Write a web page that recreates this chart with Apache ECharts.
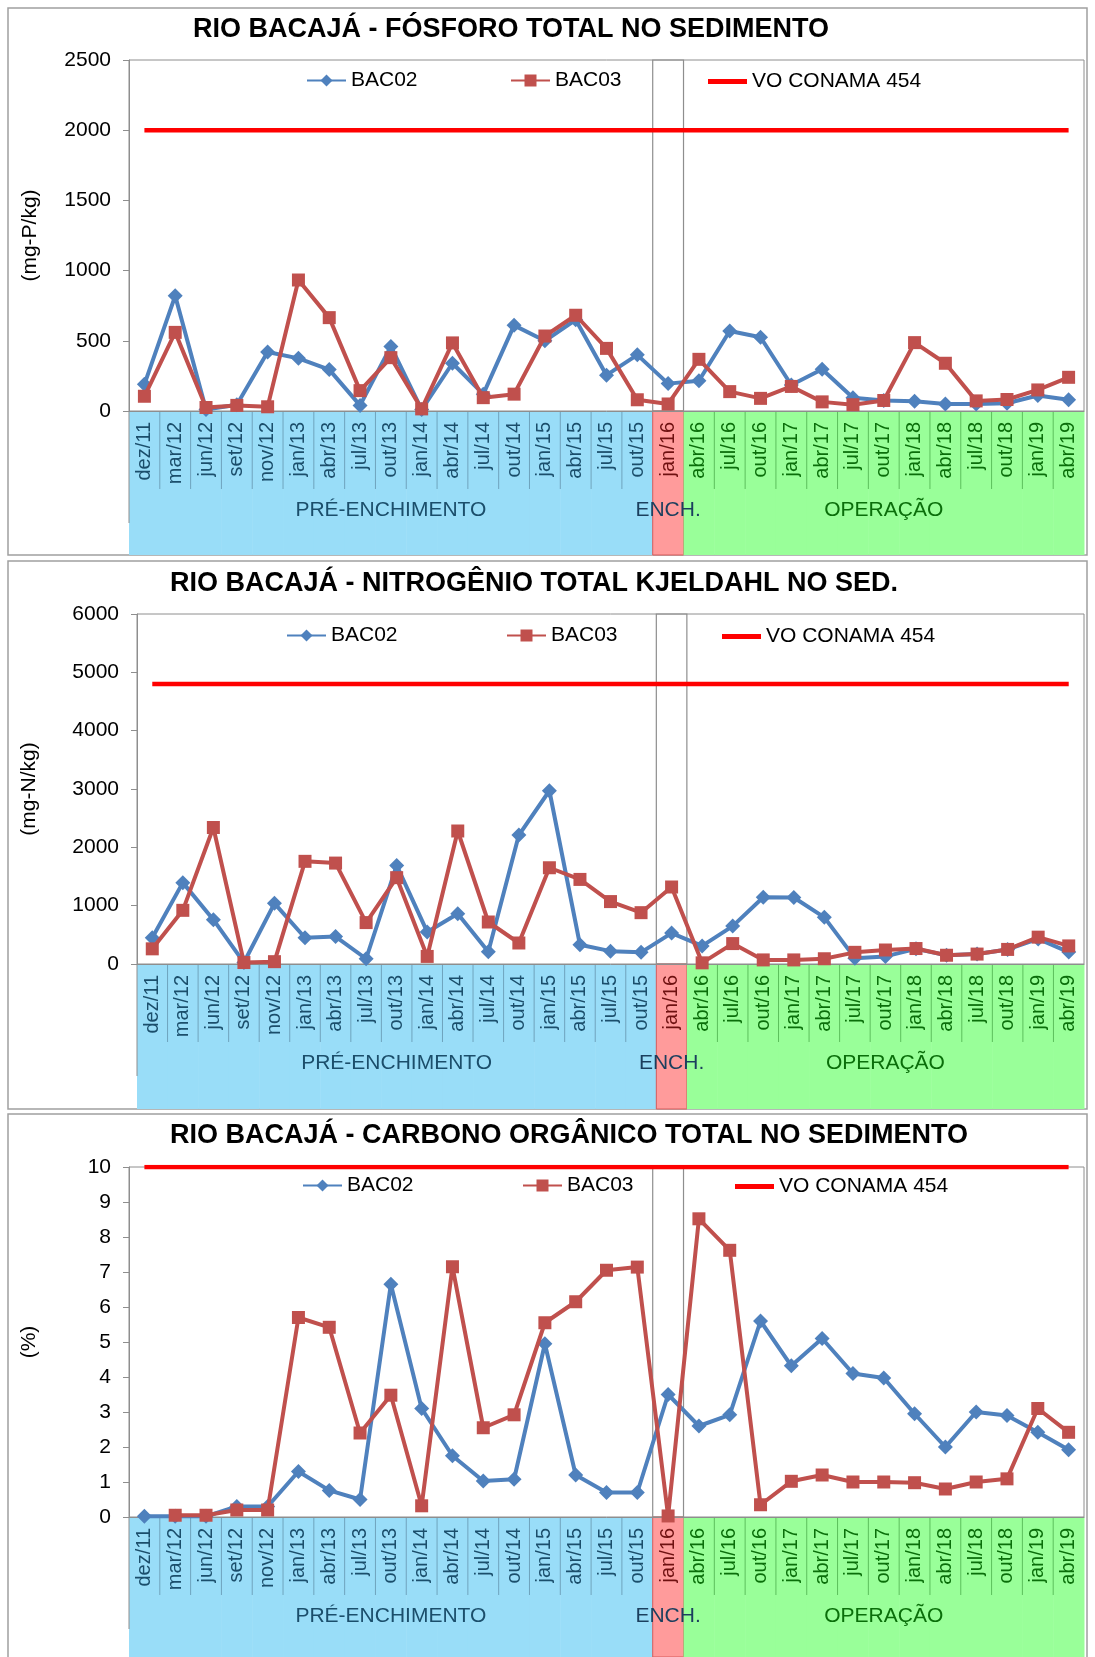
<!DOCTYPE html>
<html>
<head>
<meta charset="utf-8">
<script src="https://cdn.jsdelivr.net/npm/echarts@6/dist/echarts.min.js"></script>
<style>
  html, body { margin: 0; padding: 0; background: #fff; }
  #wrap { position: relative; width: 1095px; height: 1657px; overflow: hidden; }
  .chart { position: absolute; left: 0; width: 1095px; }
</style>
</head>
<body>
<div id="wrap">
  <div id="chartP" class="chart" style="top:0;height:560px"></div>
  <div id="chartN" class="chart" style="top:560px;height:553px"></div>
  <div id="chartC" class="chart" style="top:1113px;height:544px"></div>
</div>
<script>
// campaigns
const categories = ['dez/11','mar/12','jun/12','set/12','nov/12','jan/13','abr/13','jul/13','out/13',
  'jan/14','abr/14','jul/14','out/14','jan/15','abr/15','jul/15','out/15','jan/16',
  'abr/16','jul/16','out/16','jan/17','abr/17','jul/17','out/17','jan/18','abr/18','jul/18','out/18','jan/19','abr/19'];

// phases (first / last category index)
const phaseNames = ['PRÉ-ENCHIMENTO', 'ENCH.', 'OPERAÇÃO'];
const phaseStart = [0, 17, 18];
const phaseEnd = [16, 17, 30];

// Fósforo total (mg-P/kg)
const fosforoBAC02 = [190, 820, 10, 45, 420, 375, 295, 40, 460, 10, 340, 120, 610, 500, 650, 255, 400,
  195, 215, 570, 525, 185, 297, 95, 75, 70, 50, 50, 55, 110, 80];
const fosforoBAC03 = [105, 560, 25, 40, 30, 933, 665, 145, 380, 15, 485, 95, 120, 534, 682, 446, 80,
  50, 368, 138, 90, 175, 65, 45, 75, 487, 340, 72, 82, 150, 240];
const fosforoVO = 2000;

// Nitrogênio total Kjeldahl (mg-N/kg)
const nitrogenioBAC02 = [450, 1395, 760, 25, 1040, 450, 470, 90, 1690, 550, 860, 210, 2210, 2970, 330, 220, 200,
  530, 310, 650, 1145, 1140, 800, 100, 130, 260, 150, 170, 250, 430, 205];
const nitrogenioBAC03 = [260, 920, 2340, 25, 40, 1760, 1730, 710, 1480, 130, 2280, 720, 360, 1650, 1450, 1070, 880,
  1320, 20, 350, 70, 70, 90, 200, 240, 265, 150, 170, 250, 460, 310];
const nitrogenioVO = 4800;

// Carbono orgânico total (%)
const carbonoBAC02 = [0.02, 0.02, 0.02, 0.3, 0.3, 1.3, 0.76, 0.5, 6.65, 3.1, 1.75, 1.03, 1.08, 4.95, 1.2, 0.7, 0.7,
  3.5, 2.6, 2.92, 5.6, 4.32, 5.1, 4.1, 3.97, 2.95, 2.0, 3.0, 2.9, 2.42, 1.92];
const carbonoBAC03 = [null, 0.05, 0.05, 0.2, 0.2, 5.7, 5.42, 2.4, 3.48, 0.32, 7.15, 2.55, 2.92, 5.55, 6.15, 7.05, 7.14,
  0.03, 8.52, 7.62, 0.35, 1.02, 1.2, 1.0, 1.0, 0.98, 0.8, 1.0, 1.09, 3.1, 2.42];
const carbonoVO = 10;

const phaseStyle = [
  { fill: '#99DDF8', line: '#6fa3bd', text: '#1B4E6B' },
  { fill: '#FF9B9B', line: '#D65B5B', text: '#6E1010' },
  { fill: '#99FF99', line: '#5CBF5C', text: '#0A6E0A' }
];
const phaseLabelColor = ['#1B4E6B', '#1B3F5E', '#0A6E0A'];
const FONT = 'Liberation Sans, Arial, sans-serif';

function phaseOf(i) {
  for (let p = 0; p < phaseNames.length; p++) {
    if (i >= phaseStart[p] && i <= phaseEnd[p]) return p;
  }
  return 0;
}

function buildChart(id, cfg) {
  const chart = echarts.init(document.getElementById(id));
  const bandData = categories.map((c, i) => [i, phaseOf(i)]);
  const last = categories.length - 1;

  const renderBand = function (params, api) {
    const i = api.value(0);
    const p = api.value(1);
    const c = api.coord([i, 0]);
    const top = api.coord([i, cfg.max])[1];
    const bw = api.size([1, 0])[0];
    const x0 = c[0] - bw / 2;
    const y0 = c[1];
    const st = phaseStyle[p];
    const children = [
      { type: 'rect', shape: { x: x0, y: y0, width: bw + 0.5, height: cfg.bandH }, style: { fill: st.fill } }
    ];
    if (p === 1) {
      children.push({ type: 'rect', shape: { x: x0, y: y0, width: bw, height: cfg.bandH },
        style: { fill: null, stroke: st.line, lineWidth: 1 } });
      children.push({ type: 'rect', shape: { x: x0, y: top, width: bw, height: y0 - top },
        style: { fill: null, stroke: '#8e8e8e', lineWidth: 1.2 } });
    } else if (i !== phaseStart[p]) {
      children.push({ type: 'line', shape: { x1: x0, y1: y0, x2: x0, y2: y0 + 78 },
        style: { stroke: st.line, lineWidth: 1 } });
    }
    if (i === 0) {
      children.push({ type: 'line', shape: { x1: x0, y1: y0, x2: x0, y2: y0 + 112 },
        style: { stroke: '#8e8e8e', lineWidth: 1 } });
    }
    // phase names go on top of every cell, so they are drawn with the last one
    if (i === last) {
      for (let q = 0; q < phaseNames.length; q++) {
        const left = api.coord([phaseStart[q], 0])[0] - bw / 2;
        const right = api.coord([phaseEnd[q], 0])[0] + bw / 2;
        children.push({ type: 'text', style: {
          text: phaseNames[q], x: (left + right) / 2, y: y0 + 99,
          align: 'center', verticalAlign: 'middle',
          fontSize: 21, fontFamily: FONT, fill: phaseLabelColor[q]
        } });
      }
    }
    return { type: 'group', children: children };
  };

  const legendBase = {
    top: cfg.legendTop, padding: 0, itemWidth: 39, itemHeight: 15, itemGap: 0,
    textStyle: { fontSize: 21, color: '#000', fontFamily: FONT }
  };

  chart.setOption({
    animation: false,
    textStyle: { fontFamily: FONT },
    title: {
      text: cfg.title, left: cfg.titleX, top: cfg.titleTop, textAlign: 'center', padding: 0,
      textStyle: { fontSize: 27, fontWeight: 'bold', color: '#000' }
    },
    graphic: [{
      type: 'rect', shape: { x: 8, y: cfg.borderTop, width: 1079, height: cfg.borderH },
      style: { fill: null, stroke: '#a0a0a0', lineWidth: 1.5 }, z: -10
    }],
    legend: [
      Object.assign({ data: ['BAC02'], left: cfg.legendX[0] }, legendBase),
      Object.assign({ data: ['BAC03'], left: cfg.legendX[1] }, legendBase),
      Object.assign({}, legendBase, {
        data: [{ name: 'VO CONAMA 454', icon: 'rect' }], left: cfg.legendX[2],
        top: cfg.legendTop + 1, itemHeight: 5
      })
    ],
    grid: {
      left: cfg.left, right: 11, top: cfg.top, bottom: cfg.bottom,
      show: true, borderColor: '#8e8e8e', borderWidth: 1, backgroundColor: 'transparent'
    },
    xAxis: {
      type: 'category', data: categories, boundaryGap: true, z: 3,
      axisLine: { lineStyle: { color: '#8e8e8e', width: 1 } },
      axisTick: { show: false },
      axisLabel: {
        rotate: 90, interval: 0, fontSize: 20, margin: 11,
        color: function (v, idx) { return phaseStyle[phaseOf(idx)].text; }
      }
    },
    yAxis: {
      type: 'value', min: 0, max: cfg.max, interval: cfg.interval,
      name: cfg.yName, nameLocation: 'middle', nameGap: cfg.nameGap,
      nameTextStyle: { fontSize: 21, color: '#000' },
      axisLine: { show: true, lineStyle: { color: '#8e8e8e' } },
      axisTick: { show: true, length: 6, lineStyle: { color: '#8e8e8e' } },
      axisLabel: { fontSize: 21, color: '#000', margin: 18, formatter: v => String(v) },
      splitLine: { show: false }
    },
    series: [
      {
        type: 'custom', name: 'fases', data: bandData, renderItem: renderBand,
        clip: false, silent: true, z: 1, encode: { x: 0, y: -1 }
      },
      {
        name: 'VO CONAMA 454', type: 'line', data: categories.map(() => cfg.vo),
        symbol: 'none', lineStyle: { color: '#FF0000', width: 4.5 }, itemStyle: { color: '#FF0000' }, z: 4
      },
      {
        name: 'BAC02', type: 'line', data: cfg.bac02, symbol: 'diamond', symbolSize: 15,
        lineStyle: { color: '#4F81BD', width: 4 }, itemStyle: { color: '#4F81BD' }, z: 5
      },
      {
        name: 'BAC03', type: 'line', data: cfg.bac03, symbol: 'rect', symbolSize: 13,
        lineStyle: { color: '#C0504D', width: 4 }, itemStyle: { color: '#C0504D' }, z: 6
      }
    ]
  });
}

buildChart('chartP', {
  title: 'RIO BACAJÁ - FÓSFORO TOTAL NO SEDIMENTO', titleX: 511, titleTop: 16,
  borderTop: 8, borderH: 547,
  left: 129, top: 60, bottom: 149, max: 2500, interval: 500,
  yName: '(mg-P/kg)', nameGap: 88,
  legendTop: 70, legendX: [306, 510, 708],
  bandH: 144,
  bac02: fosforoBAC02, bac03: fosforoBAC03, vo: fosforoVO
});

buildChart('chartN', {
  title: 'RIO BACAJÁ - NITROGÊNIO TOTAL KJELDAHL NO SED.', titleX: 534, titleTop: 10,
  borderTop: 1, borderH: 548,
  left: 137, top: 54, bottom: 149, max: 6000, interval: 1000,
  yName: '(mg-N/kg)', nameGap: 97,
  legendTop: 65, legendX: [286, 506, 722],
  bandH: 145,
  bac02: nitrogenioBAC02, bac03: nitrogenioBAC03, vo: nitrogenioVO
});

buildChart('chartC', {
  title: 'RIO BACAJÁ - CARBONO ORGÂNICO TOTAL NO SEDIMENTO', titleX: 569, titleTop: 9,
  borderTop: 1, borderH: 560,
  left: 129, top: 54, bottom: 140, max: 10, interval: 1,
  yName: '(%)', nameGap: 89,
  legendTop: 62, legendX: [302, 522, 735],
  bandH: 140,
  bac02: carbonoBAC02, bac03: carbonoBAC03, vo: carbonoVO
});
</script>
</body>
</html>
